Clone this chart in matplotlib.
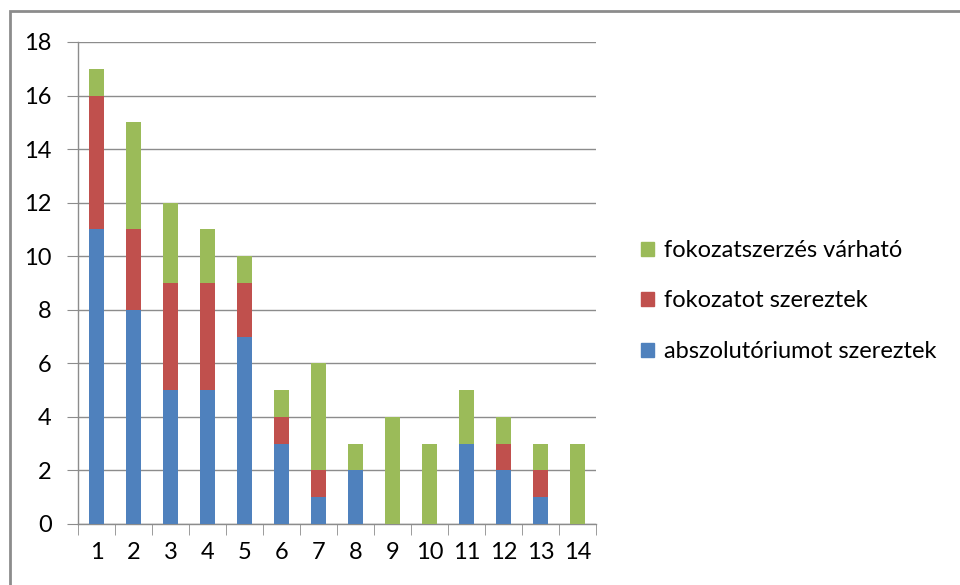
import matplotlib.pyplot as plt
from matplotlib.patches import Rectangle, Patch
import numpy as np

plt.rcParams['font.family'] = ['Lato', 'DejaVu Sans']

# adatok
kategoriak = [str(i) for i in range(1, 15)]
abszolutorium = [11, 8, 5, 5, 7, 3, 1, 2, 0, 0, 3, 2, 1, 0]
fokozat = [5, 3, 4, 4, 2, 1, 1, 0, 0, 0, 0, 1, 1, 0]
varhato = [1, 4, 3, 2, 1, 1, 4, 1, 4, 3, 2, 1, 1, 3]

nevek = ["abszolutóriumot szereztek", "fokozatot szereztek", "fokozatszerzés várható"]
szinek = ["#4F81BD", "#C0504D", "#9BBB59"]

fig = plt.figure(figsize=(9.6, 5.85), dpi=100)
fig.patches.append(Rectangle((10 / 960, -0.05), 2, 1 - 11 / 585 + 0.05, transform=fig.transFigure,
                             fill=False, edgecolor="#8c8c8c", linewidth=2))

ax = fig.add_axes([78 / 960, 61 / 585, 518 / 960, 482 / 585])

x = np.arange(1, 15)
w = 0.38
alul = np.zeros(14)
for ertekek, nev, szin in zip([abszolutorium, fokozat, varhato], nevek, szinek):
    ax.bar(x, ertekek, w, bottom=alul, color=szin, label=nev, zorder=3)
    alul = alul + np.array(ertekek)

ax.set_xlim(0.5, 14.5)
ax.set_ylim(0, 18)
ax.set_yticks(range(0, 19, 2))
ax.set_xticks(x)
ax.set_xticklabels(kategoriak)
ax.set_xticks(np.arange(0.5, 15, 1), minor=True)
ax.grid(axis="y", color="#8c8c8c", linewidth=1, zorder=0)

for s in ["top", "right"]:
    ax.spines[s].set_visible(False)
for s in ["left", "bottom"]:
    ax.spines[s].set_color("#8c8c8c")
    ax.spines[s].set_linewidth(1)

ax.tick_params(axis="y", length=8, color="#8c8c8c", labelsize=17, pad=11)
ax.tick_params(axis="x", which="major", length=0, labelsize=17, pad=13)
ax.tick_params(axis="x", which="minor", length=8, color="#8c8c8c")

handles = [Patch(color=c) for c in szinek][::-1]
fig.legend(handles, nevek[::-1], loc="center left", bbox_to_anchor=(620 / 960, 1 - 301 / 585),
           frameon=False, fontsize=17, handlelength=0.55, handleheight=0.55,
           handletextpad=0.4, labelspacing=1.25)

fig.savefig("out.png", dpi=100)
